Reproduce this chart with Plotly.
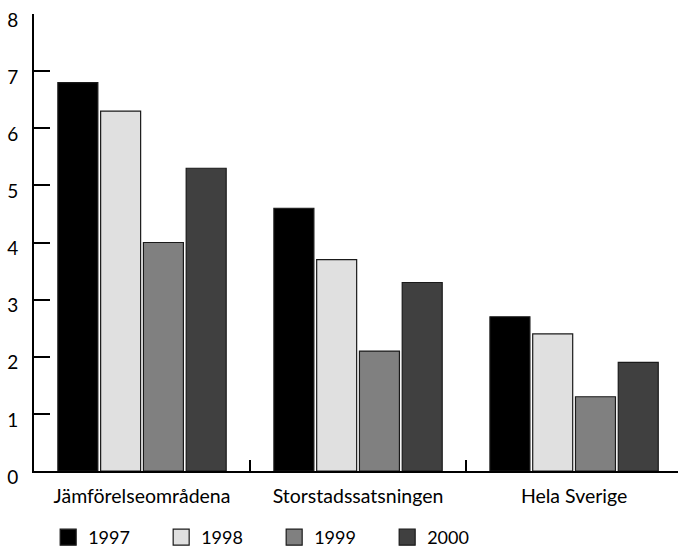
import plotly.graph_objects as go

categories = ["Jämförelseområdena", "Storstadssatsningen", "Hela Sverige"]
years = ["1997", "1998", "1999", "2000"]
values_1997 = [6.8, 4.6, 2.7]
values_1998 = [6.3, 3.7, 2.4]
values_1999 = [4.0, 2.1, 1.3]
values_2000 = [5.3, 3.3, 1.9]
y_ticks = [0, 1, 2, 3, 4, 5, 6, 7, 8]

series = [values_1997, values_1998, values_1999, values_2000]
colors = ["#000000", "#e0e0e0", "#808080", "#404040"]
FONT = "Lato"

fig = go.Figure()
for name, vals, col in zip(years, series, colors):
    fig.add_trace(go.Bar(
        x=categories, y=vals, name=name,
        marker=dict(color=col, line=dict(color="#1a1a1a", width=1.2)),
        showlegend=False,
    ))
for name, col in zip(years, colors):
    fig.add_trace(go.Scatter(
        x=[None], y=[None], mode="markers", name=name,
        marker=dict(symbol="square", size=22, color=col,
                    line=dict(color="#1a1a1a", width=1.2)),
    ))

fig.update_layout(
    width=678, height=551,
    margin=dict(l=34, r=0, t=14, b=80, autoexpand=False),
    paper_bgcolor="white", plot_bgcolor="white",
    font=dict(family=FONT, size=18, color="#000000"),
    barmode="group", bargap=0.208, bargroupgap=0.065,
    legend=dict(
        orientation="h", x=0.022, xanchor="left", y=-0.1455, yanchor="middle",
        font=dict(family=FONT, size=18),
        entrywidth=68, entrywidthmode="pixels", itemsizing="trace",
        bgcolor="rgba(0,0,0,0)", tracegroupgap=0,
    ),
    xaxis=dict(
        range=[-0.5, 2.481], showline=True, linecolor="#000000", linewidth=2,
        ticks="inside", tickson="boundaries", ticklen=11, tickwidth=2,
        tickcolor="#000000", showgrid=False, zeroline=False, automargin=False,
        tickfont=dict(family=FONT, size=19.5), ticklabelstandoff=7,
    ),
    yaxis=dict(
        range=[0, 8], tickvals=y_ticks, showline=True, linecolor="#000000",
        linewidth=2, ticks="inside", ticklen=16, tickwidth=2,
        tickcolor="#000000", showgrid=False, zeroline=False, automargin=False,
        tickfont=dict(family=FONT, size=19), ticklabelstandoff=10,
        ticklabelshift=6, ticklabeloverflow="allow",
    ),
)

fig.write_html(
    "out.html",
    config={"displayModeBar": False},
    post_script="document.body.style.margin='0';document.body.style.overflow='hidden';",
)
